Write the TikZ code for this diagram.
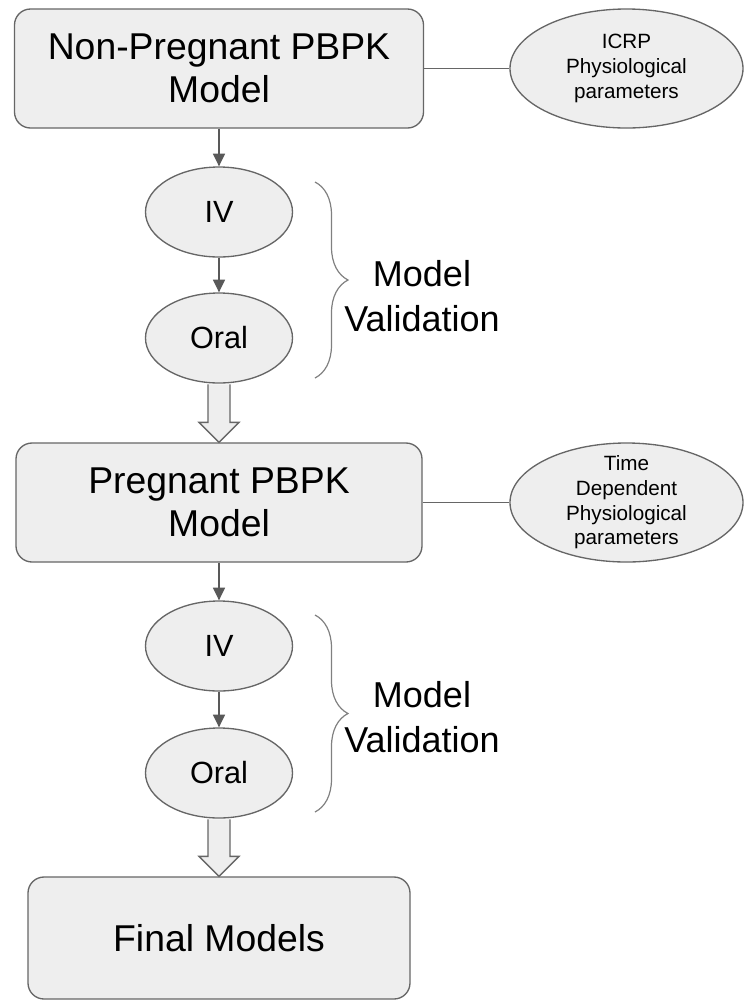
\documentclass[tikz,border=0pt]{standalone}
\usepackage{fontspec}
\setmainfont{Liberation Sans}
\usetikzlibrary{shapes.geometric, arrows.meta, decorations.pathreplacing}
\definecolor{boxfill}{HTML}{EEEEEE}
\definecolor{boxline}{HTML}{666666}
\definecolor{arrowgray}{HTML}{595959}

\begin{document}
\begin{tikzpicture}[x=0.75pt, y=-0.75pt,
  model/.style={draw=boxline, fill=boxfill, line width=1pt, rounded corners=12pt, align=center, inner sep=0pt, font=\fontsize{28}{32.25}\selectfont},
  route/.style={ellipse, draw=boxline, fill=boxfill, line width=1pt, inner sep=0pt, minimum width=110.25pt, minimum height=67.5pt, font=\fontsize{23}{27}\selectfont},
  param/.style={ellipse, draw=boxline, fill=boxfill, line width=1pt, inner xsep=0pt, inner ysep=-6pt, minimum width=174.75pt, minimum height=89.25pt, align=center, font=\fontsize{15.5}{18.5}\selectfont},
  flow/.style={draw=arrowgray, line width=1pt, -{Triangle[length=9.5pt, width=9pt]}},
  link/.style={draw=boxline, line width=1pt},
  bigarrow/.style={draw=boxline, fill=boxfill, line width=1pt},
  bracket/.style={draw=gray, line width=0.9pt, decorate, decoration={brace, amplitude=24.75pt}},
  vtext/.style={align=center, inner sep=0pt, font=\fontsize{27}{33.75}\selectfont}
]
\useasboundingbox (0,0) rectangle (745,1001);

% first stage
\node[model, minimum width=306.75pt, minimum height=89.25pt] (nonpreg) at (219, 68.5) {Non-Pregnant PBPK\\Model};
\node[param] (icrp) at (626.5, 68.5) {ICRP\\Physiological\\parameters};
\node[route] (iv1) at (219, 212) {IV};
\node[route] (oral1) at (219, 338) {Oral};

% second stage
\node[model, minimum width=304.5pt, minimum height=89.25pt] (preg) at (219, 502.5) {Pregnant PBPK\\Model};
\node[param] (timedep) at (626.5, 502.5) {Time\\Dependent\\Physiological\\parameters};
\node[route] (iv2) at (219, 646) {IV};
\node[route] (oral2) at (219, 773) {Oral};

\node[model, minimum width=286.5pt, minimum height=91.5pt] (final) at (219, 938) {Final Models};

\draw[link] (nonpreg.east) -- (icrp.west);
\draw[link] (preg.east) -- (timedep.west);

\draw[flow] (nonpreg.south) -- (iv1.north);
\draw[flow] (iv1.south) -- (oral1.north);
\draw[flow] (preg.south) -- (iv2.north);
\draw[flow] (iv2.south) -- (oral2.north);

% hollow arrows
\draw[bigarrow] ([xshift=-8.25pt, yshift=-0.6pt]oral1.south) -- ([xshift=-8.25pt, yshift=15pt]preg.north) -- ([xshift=-15pt, yshift=15pt]preg.north) -- (preg.north) -- ([xshift=15pt, yshift=15pt]preg.north) -- ([xshift=8.25pt, yshift=15pt]preg.north) -- ([xshift=8.25pt, yshift=-0.6pt]oral1.south);
\draw[bigarrow] ([xshift=-8.25pt, yshift=-0.6pt]oral2.south) -- ([xshift=-8.25pt, yshift=15pt]final.north) -- ([xshift=-15pt, yshift=15pt]final.north) -- (final.north) -- ([xshift=15pt, yshift=15pt]final.north) -- ([xshift=8.25pt, yshift=15pt]final.north) -- ([xshift=8.25pt, yshift=-0.6pt]oral2.south);

% validation braces
\coordinate (brace1top) at (315, 182);
\coordinate (brace1bot) at (315, 378);
\coordinate (brace2top) at (315, 615);
\coordinate (brace2bot) at (315, 812);
\draw[bracket] (brace1top) -- (brace1bot);
\draw[bracket] (brace2top) -- (brace2bot);
\node[vtext] (valid1) at (422, 296) {Model\\Validation};
\node[vtext] (valid2) at (422, 717.5) {Model\\Validation};
\end{tikzpicture}
\end{document}
